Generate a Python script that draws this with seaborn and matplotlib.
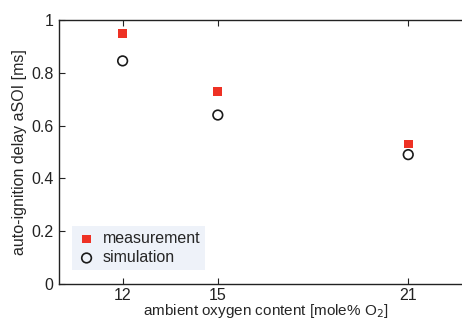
import numpy as np
import pandas as pd
import matplotlib
matplotlib.use("Agg")
import matplotlib.pyplot as plt
import seaborn as sns

# datos
oxigeno = [12, 15, 21]
medicion = [0.95, 0.73, 0.53]
simulacion = [0.845, 0.64, 0.49]

df = pd.DataFrame({
    "oxygen": oxigeno * 2,
    "delay": medicion + simulacion,
    "tipo": ["measurement"] * 3 + ["simulation"] * 3,
})

sns.set_style("ticks")
plt.rcParams["font.family"] = ["Liberation Sans", "DejaVu Sans"]
plt.rcParams["font.size"] = 11.5

fig = plt.figure(figsize=(4.62, 3.22), dpi=100)
ax = fig.add_axes([0.128, 0.118, 0.893, 0.820])

sns.scatterplot(data=df[df["tipo"] == "measurement"], x="oxygen", y="delay",
                marker="s", color="#ee3124", edgecolor="none", s=40,
                label="measurement", ax=ax)
sns.scatterplot(data=df[df["tipo"] == "simulation"], x="oxygen", y="delay",
                marker="o", facecolor="none", edgecolor="#1a1a1a",
                linewidth=1.2, s=48, label="simulation", ax=ax)

ax.set_xlim(10, 23)
ax.set_ylim(0, 1)
ax.set_xticks(oxigeno)
ax.set_yticks([0, 0.2, 0.4, 0.6, 0.8, 1])
ax.set_yticklabels(["0", "0.2", "0.4", "0.6", "0.8", "1"])
ax.tick_params(direction="in", top=True, right=True, length=4, width=0.8,
               labelsize=11.5, colors="#222222", pad=4)
ax.tick_params(axis="x", pad=3)
for s in ax.spines.values():
    s.set_linewidth(1.0)
    s.set_color("#222222")
    s.set_visible(True)

ax.set_xlabel("ambient oxygen content [mole% O$_2$]", fontsize=11, labelpad=-0.5)
ax.set_ylabel("auto-ignition delay aSOI [ms]", fontsize=11.5, labelpad=3)

leg = ax.legend(loc="lower left", bbox_to_anchor=(0.02, 0.035), frameon=True,
                fancybox=False, handletextpad=0.4, borderpad=0.3,
                labelspacing=0.25, handlelength=1.2, fontsize=11.5,
                borderaxespad=0.3)
leg.get_frame().set_facecolor("#eef2f9")
leg.get_frame().set_edgecolor("none")
leg.get_frame().set_alpha(1)

plt.savefig("out.png", dpi=100)
